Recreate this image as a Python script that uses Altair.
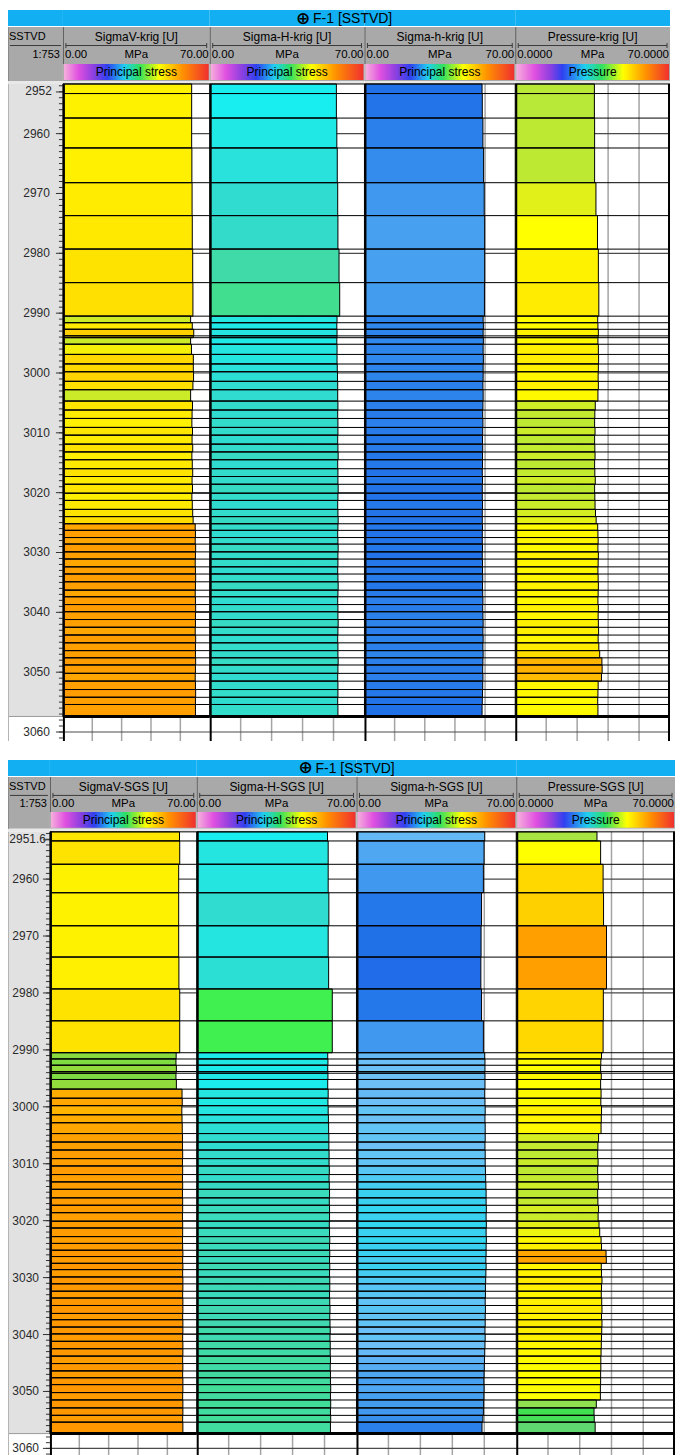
import altair as alt
import pandas as pd

FONT = "Liberation Sans"

# ---------------- data ----------------
# zone boundaries (m, SSTVD), shared by every track of both panels
BOUNDS = [2951.7, 2953.3, 2957.4, 2962.4, 2968.2, 2973.7, 2979.3, 2984.9, 2990.5, 2991.6,
          2992.7, 2993.8, 2994.1, 2995.2, 2996.9, 2998.5, 2999.8, 3001.4, 3002.8, 3004.7,
          3006.2, 3007.6, 3009.1, 3010.4, 3011.9, 3013.2, 3014.5, 3016.0, 3017.3, 3018.6,
          3020.1, 3021.3, 3022.8, 3024.0, 3025.2, 3026.3, 3027.5, 3028.6, 3029.9, 3031.1,
          3032.4, 3033.6, 3034.9, 3036.3, 3037.4, 3038.7, 3039.9, 3041.2, 3042.5, 3043.8,
          3045.1, 3046.4, 3047.6, 3048.8, 3050.2, 3051.5, 3052.9, 3054.2, 3055.4, 3057.4]

SIGMAV_KRIG = [61.4, 61.4, 61.4, 61.5, 61.6, 61.7, 61.9, 62.0, 60.9, 61.7,
               62.4, 62.2, 60.9, 61.3, 62.2, 62.2, 62.3, 62.0, 60.9, 61.8,
               61.6, 61.5, 61.8, 61.6, 61.9, 61.5, 61.7, 61.9, 61.6, 61.8,
               61.5, 61.7, 61.9, 62.1, 63.1, 63.2, 63.1, 63.3, 63.2, 63.1,
               63.2, 63.3, 63.2, 63.1, 63.2, 63.3, 63.2, 63.2, 63.1, 63.3,
               63.2, 63.2, 63.3, 63.2, 63.1, 63.2, 63.3, 63.2, 63.2]
SIGMA_H_KRIG = [57.3, 57.3, 57.5, 57.7, 57.9, 58.0, 58.5, 58.8, 57.6, 57.5,
                57.6, 57.6, 57.5, 57.6, 57.6, 57.7, 57.8, 57.9, 57.9, 58.0,
                57.9, 58.0, 58.0, 57.9, 58.0, 58.1, 57.9, 58.0, 58.0, 58.1,
                58.0, 57.9, 58.0, 58.1, 58.0, 57.9, 58.0, 58.1, 58.0, 58.0,
                57.9, 58.0, 58.1, 58.0, 57.9, 58.0, 58.0, 58.1, 58.0, 57.9,
                58.0, 58.0, 58.1, 58.0, 57.9, 58.0, 58.0, 57.9, 58.0]
SIGMA_h_KRIG = [54.6, 54.7, 55.0, 55.3, 55.6, 55.8, 55.8, 55.7, 55.1, 55.2,
                55.1, 55.1, 55.2, 55.1, 55.2, 55.1, 55.1, 55.0, 55.1, 55.0,
                54.9, 55.0, 54.9, 54.8, 54.9, 54.8, 54.8, 54.7, 54.8, 54.7,
                54.7, 54.8, 54.7, 54.7, 54.8, 54.7, 54.7, 54.8, 54.7, 54.8,
                54.8, 54.9, 54.8, 54.9, 55.0, 54.9, 55.0, 55.1, 55.0, 55.1,
                55.0, 55.1, 55.0, 54.9, 55.0, 54.9, 54.8, 54.7, 54.6]
PRESSURE_KRIG = [35.8, 35.8, 35.9, 35.9, 36.5, 37.2, 37.6, 37.8, 37.3, 37.4,
                 37.6, 37.5, 37.4, 37.6, 37.7, 37.6, 37.5, 37.6, 37.4, 36.2,
                 36.0, 35.9, 36.1, 35.9, 36.0, 36.1, 35.9, 36.0, 36.2, 35.9,
                 36.0, 36.1, 36.3, 36.6, 37.3, 37.4, 37.5, 37.4, 37.6, 37.5,
                 37.4, 37.5, 37.6, 37.5, 37.4, 37.6, 37.5, 37.6, 37.7, 37.5,
                 37.8, 38.2, 39.2, 39.3, 39.0, 37.5, 37.4, 37.3, 37.4]

SIGMAV_SGS = [61.8, 61.9, 61.4, 61.4, 61.4, 61.5, 61.9, 61.9, 60.2, 60.1,
              60.3, 60.2, 60.1, 60.3, 63.0, 63.1, 62.9, 63.0, 63.1, 63.2,
              63.2, 63.3, 63.2, 63.3, 63.2, 63.3, 63.2, 63.3, 63.3, 63.2,
              63.3, 63.3, 63.2, 63.3, 63.4, 63.3, 63.4, 63.3, 63.4, 63.4,
              63.3, 63.4, 63.4, 63.3, 63.4, 63.4, 63.3, 63.4, 63.4, 63.3,
              63.4, 63.3, 63.4, 63.4, 63.3, 63.4, 63.4, 63.3, 63.4]
SIGMA_H_SGS = [57.3, 57.6, 57.6, 57.9, 57.6, 57.8, 59.4, 59.4, 57.4, 57.5,
               57.4, 57.5, 57.5, 57.4, 57.6, 57.5, 57.6, 57.7, 57.8, 57.9,
               57.9, 58.0, 58.0, 58.1, 58.0, 58.1, 58.2, 58.1, 58.2, 58.2,
               58.1, 58.2, 58.3, 58.2, 58.3, 58.2, 58.3, 58.2, 58.3, 58.3,
               58.2, 58.3, 58.4, 58.3, 58.4, 58.5, 58.4, 58.5, 58.5, 58.6,
               58.5, 58.6, 58.6, 58.7, 58.6, 58.7, 58.6, 58.7, 58.6]
SIGMA_h_SGS = [56.2, 55.9, 55.6, 54.8, 54.6, 54.5, 54.8, 55.6, 56.2, 56.3,
               56.3, 56.2, 56.3, 56.3, 56.2, 56.3, 56.4, 56.3, 56.4, 56.4,
               56.3, 56.4, 56.4, 56.5, 56.6, 56.7, 56.8, 56.8, 56.9, 56.8,
               56.9, 56.8, 56.9, 56.8, 56.8, 56.7, 56.8, 56.7, 56.6, 56.5,
               56.5, 56.4, 56.5, 56.4, 56.4, 56.3, 56.4, 56.3, 56.2, 56.1,
               56.0, 55.9, 55.8, 55.9, 55.8, 55.7, 55.6, 55.4, 55.0]
PRESSURE_SGS = [35.6, 37.2, 38.3, 38.5, 39.8, 39.8, 38.4, 38.3, 37.6, 37.3,
                37.2, 37.3, 37.5, 37.2, 37.4, 37.3, 37.6, 37.5, 37.4, 36.3,
                36.0, 35.9, 36.1, 35.9, 36.0, 36.2, 35.9, 36.0, 36.3, 36.1,
                36.5, 36.8, 37.4, 37.6, 39.6, 39.7, 37.5, 37.6, 37.8, 37.6,
                37.5, 37.7, 37.8, 37.6, 37.8, 37.7, 37.6, 37.5, 37.4, 37.3,
                37.3, 37.2, 37.2, 37.1, 37.1, 35.3, 34.3, 34.4, 34.8]

KRIG_NAMES = ["SigmaV-krig [U]", "Sigma-H-krig [U]", "Sigma-h-krig [U]", "Pressure-krig [U]"]
SGS_NAMES = ["SigmaV-SGS [U]", "Sigma-H-SGS [U]", "Sigma-h-SGS [U]", "Pressure-SGS [U]"]
SCALE_LEFT = ["0.00", "0.00", "0.00", "0.0000"]
SCALE_RIGHT = ["70.00", "70.00", "70.00", "70.0000"]
UNIT = "MPa"
TEMPLATES = ["Principal stress", "Principal stress", "Principal stress", "Pressure"]
WELL_SYMBOL = "\u2295"
WELL_TITLE = "F-1 [SSTVD]"
DEPTH_HEADER = ["SSTVD", "1:753"]
TOP_LABELS = ["2952", "2951.6"]
DEPTH_LABELS = [2960, 2970, 2980, 2990, 3000, 3010, 3020, 3030, 3040, 3050, 3060]
DEPTH_GRID = [2960, 2980, 3000, 3020, 3040, 3060]
MINOR_TICKS = list(range(2952, 3062))
DEPTH_DOMAIN = [2951.7, 3061.5]
X_DOMAIN = [0, 70]
X_GRID = [14, 28, 42, 56]

# colour templates
STRESS_DOMAIN = [52.0, 53.2, 54.0, 54.6, 55.2, 55.8, 56.3, 56.8, 57.3, 57.9, 58.4, 58.9,
                 59.4, 60.2, 60.8, 61.4, 62.0, 62.6, 63.2, 64.0, 65.0]
STRESS_COLORS = ["#e070d8", "#8a4ee0", "#2458e8", "#2070e8", "#3088ec", "#48a0f0", "#6cc0f6",
                 "#3ad0f0", "#18eef0", "#30dcd0", "#40d8b0", "#42e088", "#40f050", "#88d840",
                 "#c0e830", "#fff200", "#ffe000", "#ffc800", "#ffa000", "#ff8000", "#f04040"]
PRESSURE_DOMAIN = [30.0, 31.5, 32.5, 33.5, 34.3, 34.8, 35.3, 35.8, 36.5, 37.2, 37.8, 38.4,
                   39.0, 39.8, 41.0, 42.0]
PRESSURE_COLORS = ["#e070d0", "#8050e0", "#3060e8", "#20c8f0", "#40e050", "#60d870", "#90e050",
                   "#b8e838", "#e0f018", "#ffff00", "#ffec00", "#ffd400", "#ffbc00", "#ffa000",
                   "#ff6020", "#f04040"]
STRESS_BAR = [(0.0, "#f6b0dc"), (0.1, "#e050e0"), (0.2, "#9040e0"), (0.3, "#3040f0"),
              (0.42, "#20d0f0"), (0.52, "#30e060"), (0.66, "#ffff00"), (0.82, "#ff9000"),
              (1.0, "#f03030")]
PRESSURE_BAR = [(0.0, "#f6b0dc"), (0.12, "#e050e0"), (0.22, "#9040e0"), (0.3, "#3040f0"),
                (0.45, "#20d0f0"), (0.56, "#30e060"), (0.7, "#ffff00"), (0.85, "#ff9000"),
                (1.0, "#f03030")]

HEADER_GRAY = "#a9a9a9"
TITLE_BLUE = "#12b0f2"
TITLE_H = 17


def yscale():
    return alt.Scale(domain=DEPTH_DOMAIN, reverse=True, nice=False, zero=False)


def xscale():
    return alt.Scale(domain=X_DOMAIN, nice=False, zero=False)


def yenc(field):
    return alt.Y(field, type="quantitative", scale=yscale(), axis=None)


def xenc(field):
    return alt.X(field, type="quantitative", scale=xscale(), axis=None)


def one():
    return alt.Chart(pd.DataFrame({"k": [0]}))


def hrect(x1, x2, y1, y2, **kw):
    return one().mark_rect(**kw).encode(x=alt.value(x1), x2=alt.value(x2),
                                        y=alt.value(y1), y2=alt.value(y2))


def hline(x1, x2, y1, y2, **kw):
    return one().mark_rule(**kw).encode(x=alt.value(x1), x2=alt.value(x2),
                                        y=alt.value(y1), y2=alt.value(y2))


def htext(x, y, text, **kw):
    opts = dict(font=FONT, color="#000", baseline="middle")
    opts.update(kw)
    return one().mark_text(text=text, **opts).encode(x=alt.value(x), y=alt.value(y))


def gradient(stops):
    return alt.LinearGradient(gradient="linear", x1=0, x2=1, y1=0, y2=0,
                              stops=[alt.GradientStop(offset=o, color=c) for o, c in stops])


def track_body(values, width, height, cdomain, crange, last):
    df = pd.DataFrame({"top": BOUNDS[:-1], "base": BOUNDS[1:], "value": values})
    df["zero"] = 0.0
    cscale = alt.Scale(domain=cdomain, range=crange, interpolate="rgb", clamp=True)
    vgrid = alt.Chart(pd.DataFrame({"x": X_GRID})).mark_rule(
        color="#a4a4a4", strokeWidth=1.5).encode(x=xenc("x"))
    hgrid = alt.Chart(pd.DataFrame({"d": DEPTH_GRID})).mark_rule(
        color="#4a4a4a", strokeWidth=1.2).encode(y=yenc("d"))
    bars = alt.Chart(df).mark_rect(stroke="#000", strokeWidth=1).encode(
        x=xenc("zero"), x2="value:Q", y=yenc("top"), y2="base:Q",
        color=alt.Color("value:Q", scale=cscale, legend=None))
    zrules = alt.Chart(pd.DataFrame({"d": BOUNDS})).mark_rule(
        color="#000", strokeWidth=1).encode(y=yenc("d"))
    bottom = alt.Chart(pd.DataFrame({"d": [BOUNDS[-1]]})).mark_rule(
        color="#000", strokeWidth=3).encode(y=yenc("d"))
    edges = [one().mark_rule(color="#000", strokeWidth=2).encode(
        x=alt.value(1), y=alt.value(0), y2=alt.value(height))]
    if last:
        edges.append(one().mark_rule(color="#000", strokeWidth=2).encode(
            x=alt.value(width - 1), y=alt.value(0), y2=alt.value(height)))
    return alt.layer(vgrid, hgrid, bars, zrules, bottom, *edges).properties(
        width=width, height=height)


def depth_body(width, height, top_label, label_right, top_right):
    bg = alt.Chart(pd.DataFrame({"a": [BOUNDS[0]], "b": [BOUNDS[-1]]})).mark_rect(
        color="#e1e1e1").encode(y=yenc("a"), y2="b:Q", x=alt.value(1), x2=alt.value(width))
    sep = alt.Chart(pd.DataFrame({"d": [BOUNDS[-1]]})).mark_rule(
        color="#9a9a9a", strokeWidth=1).encode(y=yenc("d"), x=alt.value(1), x2=alt.value(width))
    border = one().mark_rule(color="#b4b4b4", strokeWidth=1).encode(
        x=alt.value(0.5), y=alt.value(0), y2=alt.value(height))
    minor = alt.Chart(pd.DataFrame({"d": MINOR_TICKS})).mark_rule(
        color="#333", strokeWidth=1).encode(y=yenc("d"), x=alt.value(width - 4), x2=alt.value(width))
    major = alt.Chart(pd.DataFrame({"d": DEPTH_LABELS})).mark_rule(
        color="#333", strokeWidth=1).encode(y=yenc("d"), x=alt.value(width - 7), x2=alt.value(width))
    labels = alt.Chart(pd.DataFrame({"d": DEPTH_LABELS,
                                     "t": [str(v) for v in DEPTH_LABELS]})).mark_text(
        align="right", baseline="middle", font=FONT, fontSize=12, color="#2a2a2a").encode(
        y=yenc("d"), x=alt.value(label_right), text="t:N")
    toplab = alt.Chart(pd.DataFrame({"d": [BOUNDS[0]], "t": [top_label]})).mark_text(
        align="right", baseline="top", dy=2, font=FONT, fontSize=12, color="#2a2a2a").encode(
        y=yenc("d"), x=alt.value(top_right), text="t:N")
    toptick = alt.Chart(pd.DataFrame({"d": [BOUNDS[0]]})).mark_rule(
        color="#333", strokeWidth=1, yOffset=8).encode(
        y=yenc("d"), x=alt.value(width - 7), x2=alt.value(width))
    return alt.layer(bg, sep, border, minor, major, toptick, labels, toplab).properties(
        width=width, height=height)


def title_strip(width):
    return hrect(0, width, 0, TITLE_H - 1, color=TITLE_BLUE)


def track_header(width, height, name, left, right, template, stops, title_x=None):
    t = TITLE_H
    g1 = t + height - 20
    g2 = t + height - 4
    parts = [
        title_strip(width),
        hrect(0, width, t, t + height - 3, color=HEADER_GRAY),
        hrect(0, width, t + height - 3, t + height, color="#e8e8e8"),
        htext(width / 2, t + 10, name, align="center", fontSize=12),
        hline(3, width - 3, t + 18.5, t + 18.5, color="#3a3a3a", strokeWidth=1),
        hline(3, 3, t + 16, t + 21, color="#3a3a3a", strokeWidth=1),
        hline(width - 3, width - 3, t + 16, t + 21, color="#3a3a3a", strokeWidth=1),
        htext(2, t + 27.5, left, align="left", fontSize=11.5),
        htext(width / 2, t + 27.5, UNIT, align="center", fontSize=11.5),
        htext(width - 1, t + 27.5, right, align="right", fontSize=11.5),
        hrect(1, width - 1, g1, g2, color=gradient(stops)),
        htext(width / 2, (g1 + g2) / 2 + 0.5, template, align="center", fontSize=12),
        hline(0.5, 0.5, t, g1, color="#5c5c5c", strokeWidth=1),
    ]
    if title_x is not None:
        parts.append(htext(title_x - 36, 8.5, WELL_SYMBOL, align="center", fontSize=17,
                           fontWeight="bold", font="DejaVu Sans"))
        parts.append(htext(title_x - 26, 9, WELL_TITLE, align="left", fontSize=14))
    return alt.layer(*parts).properties(width=width, height=t + height)


def depth_header(width, height):
    t = TITLE_H
    parts = [
        title_strip(width),
        hrect(0, width, t, t + height - 3, color=HEADER_GRAY),
        hrect(0, width, t + height - 3, t + height, color="#e8e8e8"),
        htext(1, t + 10, DEPTH_HEADER[0], align="left", fontSize=11),
        hline(2, width - 2, t + 18.5, t + 18.5, color="#3a3a3a", strokeWidth=1),
        htext(width - 3, t + 27.5, DEPTH_HEADER[1], align="right", fontSize=11),
        hline(0.5, 0.5, t, t + height - 3, color="#8a8a8a", strokeWidth=1),
    ]
    return alt.layer(*parts).properties(width=width, height=t + height)


def panel(names, series, depth_w, widths, header_h, body_h, top_label, label_right, top_right):
    total = depth_w + sum(widths)
    heads = [depth_header(depth_w, header_h)]
    bodies = [depth_body(depth_w, body_h, top_label, label_right, top_right)]
    for i, (nm, vals, w) in enumerate(zip(names, series, widths)):
        is_p = i == 3
        dom = PRESSURE_DOMAIN if is_p else STRESS_DOMAIN
        rng = PRESSURE_COLORS if is_p else STRESS_COLORS
        stops = PRESSURE_BAR if is_p else STRESS_BAR
        tx = None
        if i == 2:
            tx = total / 2 - (depth_w + widths[0] + widths[1])
        heads.append(track_header(w, header_h, nm, SCALE_LEFT[i], SCALE_RIGHT[i],
                                  TEMPLATES[i], stops, tx))
        bodies.append(track_body(vals, w, body_h, dom, rng, last=is_p))
    grid = alt.concat(*heads, *bodies, columns=5, spacing=0, bounds="flush")
    return grid.resolve_scale(x="independent", y="independent", color="independent")


top = panel(KRIG_NAMES, [SIGMAV_KRIG, SIGMA_H_KRIG, SIGMA_h_KRIG, PRESSURE_KRIG],
            55, [147, 155, 151, 155], 57, 658, TOP_LABELS[0], 42, 44)
bottom = panel(SGS_NAMES, [SIGMAV_SGS, SIGMA_H_SGS, SIGMA_h_SGS, PRESSURE_SGS],
               42, [147, 160, 160, 159], 55, 626, TOP_LABELS[1], 31, 38)

chart = alt.vconcat(top, bottom, spacing=17).resolve_scale(
    x="independent", y="independent", color="independent"
).properties(
    padding={"left": 0, "top": 0, "right": 0, "bottom": 0}, background="white"
).configure_view(stroke=None)

chart.save("out.html", embed_options={"renderer": "svg", "actions": False})
